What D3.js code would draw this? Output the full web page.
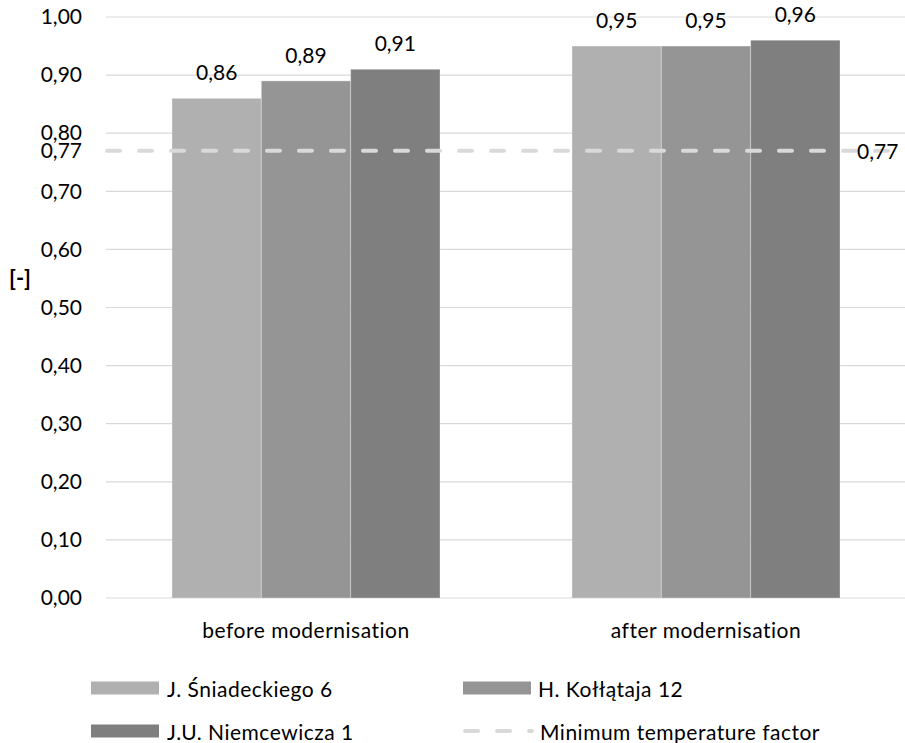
<!DOCTYPE html>
<html>
<head>
<meta charset="utf-8">
<script src="https://cdn.jsdelivr.net/npm/d3@7"></script>
<style>
  body { margin: 0; background: #fff; }
  svg text { font-family: Lato, "Open Sans", sans-serif; fill: #000; }
  svg text.word { letter-spacing: 0.5px; }
</style>
</head>
<body>
<svg id="chart" width="905" height="743"></svg>
<script>
// Temperature factor of the buildings, before and after modernisation
const categories = ["before modernisation", "after modernisation"];
const seriesNames = ["J. Śniadeckiego 6", "H. Kołłątaja 12", "J.U. Niemcewicza 1"];
const sniadeckiego = [0.86, 0.95];
const kollataja = [0.89, 0.95];
const niemcewicza = [0.91, 0.96];
const minTempFactor = 0.77;
const minLabel = "Minimum temperature factor";
const yTicks = [0, 0.1, 0.2, 0.3, 0.4, 0.5, 0.6, 0.7, 0.8, 0.9, 1.0];
const yLabel = "[-]";
const colors = ["#b0b0b0", "#959595", "#7f7f7f"];

const seriesValues = [sniadeckiego, kollataja, niemcewicza];

const svg = d3.select("#chart");
const fontSize = 21;
const locale = d3.formatLocale({ decimal: ",", thousands: " ", grouping: [3], currency: ["", ""] });
const fmt = locale.format(".2f");

const plot = { left: 106, right: 906, top: 17, bottom: 598 };

const x0 = d3.scaleBand().domain(categories).range([plot.left, plot.right]);
const x1 = d3.scaleBand().domain(seriesNames).range([66, 334]);
const y = d3.scaleLinear().domain([0, 1]).range([plot.bottom, plot.top]);

// gridlines
svg.append("g")
  .selectAll("line")
  .data(yTicks)
  .join("line")
  .attr("x1", plot.left).attr("x2", 905)
  .attr("y1", d => y(d)).attr("y2", d => y(d))
  .attr("stroke", "#d9d9d9")
  .attr("stroke-width", 1.2);

// y axis labels (including the threshold value)
const yAxis = d3.axisLeft(y)
  .tickValues(yTicks.concat([minTempFactor]))
  .tickFormat(fmt)
  .tickSize(0)
  .tickPadding(24);
const gy = svg.append("g").attr("transform", `translate(${plot.left},0)`).call(yAxis);
gy.select(".domain").remove();
gy.selectAll("text")
  .attr("font-size", fontSize)
  .style("font-family", "Lato, 'Open Sans', sans-serif")
  .attr("fill", "#000");

// axis title
svg.append("text")
  .attr("x", 20).attr("y", 277)
  .attr("text-anchor", "middle")
  .attr("dominant-baseline", "central")
  .attr("font-size", 22)
  .attr("font-weight", "bold")
  .text(yLabel);

// bars
const groups = svg.append("g")
  .selectAll("g")
  .data(categories)
  .join("g")
  .attr("transform", d => `translate(${x0(d)},0)`);

groups.selectAll("rect")
  .data((c, ci) => seriesNames.map((s, si) => ({ s, si, v: seriesValues[si][ci] })))
  .join("rect")
  .attr("x", d => x1(d.s))
  .attr("width", x1.bandwidth())
  .attr("y", d => y(d.v))
  .attr("height", d => y(0) - y(d.v))
  .attr("fill", d => colors[d.si])
  .attr("stroke", "#ffffff")
  .attr("stroke-opacity", 0.3)
  .attr("stroke-width", 1);

groups.selectAll("text.val")
  .data((c, ci) => seriesNames.map((s, si) => ({ s, si, v: seriesValues[si][ci] })))
  .join("text")
  .attr("class", "val")
  .attr("x", d => x1(d.s) + x1.bandwidth() / 2)
  .attr("y", d => y(d.v) - 18)
  .attr("text-anchor", "middle")
  .attr("font-size", fontSize)
  .text(d => fmt(d.v));

// minimum temperature factor line
svg.append("line")
  .attr("x1", plot.left + 1).attr("x2", 905)
  .attr("y1", y(minTempFactor)).attr("y2", y(minTempFactor))
  .attr("stroke", "#d9d9d9")
  .attr("stroke-width", 4)
  .attr("stroke-linecap", "round")
  .attr("stroke-dasharray", "13,19");

svg.append("text")
  .attr("x", 857).attr("y", y(minTempFactor))
  .attr("dominant-baseline", "central")
  .attr("font-size", fontSize)
  .text(fmt(minTempFactor));

// category labels
svg.append("g")
  .selectAll("text")
  .data(categories)
  .join("text")
  .attr("class", "word")
  .attr("x", d => x0(d) + x0.bandwidth() / 2)
  .attr("y", 638)
  .attr("text-anchor", "middle")
  .attr("font-size", fontSize)
  .text(d => d);

// legend
const legendItems = [
  { name: seriesNames[0], type: "bar", color: colors[0], col: 0, row: 0 },
  { name: seriesNames[1], type: "bar", color: colors[1], col: 1, row: 0 },
  { name: seriesNames[2], type: "bar", color: colors[2], col: 0, row: 1 },
  { name: minLabel, type: "line", color: "#d9d9d9", col: 1, row: 1 }
];
const colX = [91, 463];
const rowY = [688, 731];

const lg = svg.append("g")
  .selectAll("g")
  .data(legendItems)
  .join("g")
  .attr("transform", d => `translate(${colX[d.col]},${rowY[d.row]})`);

lg.filter(d => d.type === "bar")
  .append("rect")
  .attr("x", 0).attr("y", -6.5)
  .attr("width", 68).attr("height", 13)
  .attr("fill", d => d.color);

lg.filter(d => d.type === "line")
  .append("line")
  .attr("x1", 2).attr("x2", 69)
  .attr("y1", 0).attr("y2", 0)
  .attr("stroke", d => d.color)
  .attr("stroke-width", 4)
  .attr("stroke-linecap", "round")
  .attr("stroke-dasharray", "13,19");

lg.append("text")
  .attr("class", "word")
  .attr("x", d => d.type === "bar" ? (d.col === 0 ? 76 : 75) : 77)
  .attr("y", 0)
  .attr("dominant-baseline", "central")
  .attr("font-size", fontSize)
  .text(d => d.name);
</script>
</body>
</html>
